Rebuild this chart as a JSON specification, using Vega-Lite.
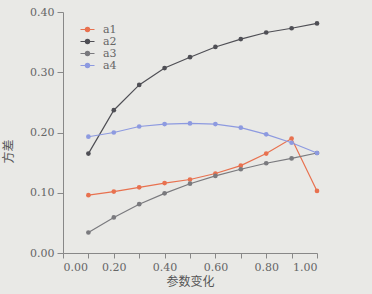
{
  "$schema": "https://vega.github.io/schema/vega-lite/v6.json",
  "autosize": {"type": "none"},
  "padding": {"left": 63, "top": 12, "right": 55, "bottom": 41},
  "width": 254,
  "height": 241,
  "background": "#e9e9e6",
  "data": {"values": [
    {"x": 0.1, "s": "a1", "y": 0.096}, {"x": 0.2, "s": "a1", "y": 0.102}, {"x": 0.3, "s": "a1", "y": 0.109}, {"x": 0.4, "s": "a1", "y": 0.116}, {"x": 0.5, "s": "a1", "y": 0.122}, {"x": 0.6, "s": "a1", "y": 0.132}, {"x": 0.7, "s": "a1", "y": 0.145}, {"x": 0.8, "s": "a1", "y": 0.165}, {"x": 0.9, "s": "a1", "y": 0.19}, {"x": 1.0, "s": "a1", "y": 0.103},
    {"x": 0.1, "s": "a2", "y": 0.165}, {"x": 0.2, "s": "a2", "y": 0.237}, {"x": 0.3, "s": "a2", "y": 0.279}, {"x": 0.4, "s": "a2", "y": 0.307}, {"x": 0.5, "s": "a2", "y": 0.325}, {"x": 0.6, "s": "a2", "y": 0.342}, {"x": 0.7, "s": "a2", "y": 0.355}, {"x": 0.8, "s": "a2", "y": 0.366}, {"x": 0.9, "s": "a2", "y": 0.373}, {"x": 1.0, "s": "a2", "y": 0.381},
    {"x": 0.1, "s": "a3", "y": 0.034}, {"x": 0.2, "s": "a3", "y": 0.059}, {"x": 0.3, "s": "a3", "y": 0.081}, {"x": 0.4, "s": "a3", "y": 0.099}, {"x": 0.5, "s": "a3", "y": 0.115}, {"x": 0.6, "s": "a3", "y": 0.128}, {"x": 0.7, "s": "a3", "y": 0.139}, {"x": 0.8, "s": "a3", "y": 0.149}, {"x": 0.9, "s": "a3", "y": 0.157}, {"x": 1.0, "s": "a3", "y": 0.166},
    {"x": 0.1, "s": "a4", "y": 0.193}, {"x": 0.2, "s": "a4", "y": 0.2}, {"x": 0.3, "s": "a4", "y": 0.21}, {"x": 0.4, "s": "a4", "y": 0.214}, {"x": 0.5, "s": "a4", "y": 0.215}, {"x": 0.6, "s": "a4", "y": 0.214}, {"x": 0.7, "s": "a4", "y": 0.208}, {"x": 0.8, "s": "a4", "y": 0.197}, {"x": 0.9, "s": "a4", "y": 0.183}, {"x": 1.0, "s": "a4", "y": 0.166}
  ]},
  "mark": {"type": "line", "point": {"size": 22, "filled": true}, "strokeWidth": 1.2},
  "encoding": {
    "x": {
      "field": "x", "type": "quantitative",
      "scale": {"domain": [0, 1], "nice": false},
      "axis": {
        "title": "参数变化", "titleFont": "Noto Sans CJK SC", "titleFontWeight": "normal", "titleFontSize": 12, "titleColor": "#555", "titlePadding": 4,
        "values": [0, 0.1, 0.2, 0.3, 0.4, 0.5, 0.6, 0.7, 0.8, 0.9, 1.0],
        "labelExpr": "(round(datum.value*10) % 2 == 0) ? format(datum.value, '.2f') : ''",
        "labelFont": "DejaVu Serif", "labelFontSize": 11, "labelColor": "#666",
        "grid": false, "domainColor": "#888", "tickColor": "#888", "tickSize": 5, "labelPadding": 3
      }
    },
    "y": {
      "field": "y", "type": "quantitative",
      "scale": {"domain": [0, 0.4], "nice": false},
      "axis": {
        "title": "方差", "titleFont": "Noto Sans CJK SC", "titleFontWeight": "normal", "titleFontSize": 12, "titleColor": "#555",
        "titleX": -48, "titleY": 139,
        "values": [0, 0.1, 0.2, 0.3, 0.4],
        "format": ".2f",
        "labelFont": "DejaVu Serif", "labelFontSize": 11, "labelColor": "#666",
        "grid": false, "domainColor": "#888", "tickColor": "#888", "tickSize": 6, "labelPadding": 3
      }
    },
    "color": {
      "field": "s", "type": "nominal",
      "scale": {"domain": ["a1", "a2", "a3", "a4"], "range": ["#e8714f", "#4f4f55", "#7a7a7e", "#8d9ae0"]},
      "legend": {
        "title": null, "orient": "none", "legendX": 19, "legendY": 12,
        "symbolType": "M-2,0L2,0M-0.6,0a0.6,0.6 0 1,0 1.2,0a0.6,0.6 0 1,0 -1.2,0",
        "symbolSize": 49, "symbolStrokeWidth": 1.2,
        "labelFont": "DejaVu Serif", "labelFontSize": 11, "labelColor": "#666",
        "rowPadding": 0, "labelOffset": 10,
        "encode": {"symbols": {"update": {"fill": {"scale": "color", "field": "value"}}}}
      }
    }
  },
  "config": {"view": {"stroke": null}}
}
